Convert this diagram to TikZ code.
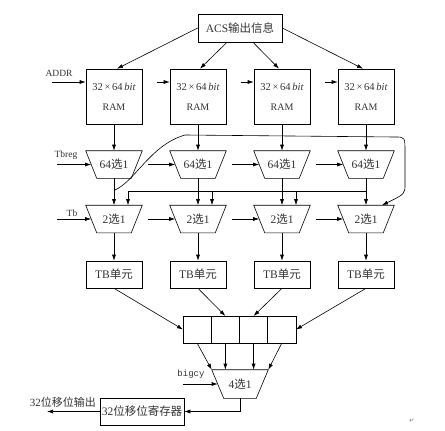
\documentclass[tikz,border=0pt]{standalone}
\usepackage{fontspec}
\setmainfont{Liberation Serif}
\newfontfamily\cjk{Noto Sans CJK SC}
\newfontfamily\mono{Liberation Mono}
\newfontfamily\sym{DejaVu Sans}
\usetikzlibrary{positioning,calc,arrows.meta}

\begin{document}
\begin{tikzpicture}[x=1pt, y=-1pt, -{Latex[length=6pt,width=4pt]}, line width=0.6pt,
    font=\fontsize{11.5}{13}\selectfont,
    box/.style = {draw, rectangle, minimum width=56pt, minimum height=27pt, inner sep=0pt, text=black!80},
    mux/.style = {rectangle, minimum width=56pt, minimum height=27pt, inner sep=0pt, text=black!80},
    cell/.style = {draw, rectangle, minimum width=28.25pt, minimum height=27pt, inner sep=0pt, outer sep=0pt},
    lbl/.style = {inner sep=0pt, text=black!80, font=\fontsize{9.5}{11}\selectfont}]
    \useasboundingbox (0,0) rectangle (445,431);

    \node[box, minimum width=84pt, minimum height=28pt] (acs) at (240,28) {ACS{\cjk 输出信息}};

    \foreach \i/\x in {1/114, 2/198, 3/282, 4/366} {
        \node[box, minimum height=55pt, align=center] (ram\i) at (\x,96.5) {{\fontsize{10.5}{12}\selectfont 32\,×\,64\,\textit{bit}}\\[7pt]{\fontsize{10}{12}\selectfont RAM}};
        \node[mux] (sel\i) at (\x,164.5) {64{\cjk 选}1};
        \node[mux] (two\i) at (\x,219) {2{\cjk 选}1};
        \node[box] (tb\i) at (\x,274.5) {TB{\cjk 单元}};
    }
    \node[cell] (reg1) at (197.1,329.5) {};
    \node[cell, right=0pt of reg1] (reg2) {};
    \node[cell, right=0pt of reg2] (reg3) {};
    \node[cell, right=0pt of reg3] (reg4) {};
    \node[mux, minimum height=28pt] (four) at (240,384) {4{\cjk 选}1};
    \node[box, minimum width=84pt] (sreg) at (142,411.5) {32{\cjk 位移位寄存器}};

    % mux outlines
    \foreach \m/\d in {sel1/11, sel2/11, sel3/11, sel4/11, two1/11, two2/11, two3/11, two4/11, four/12}
        \draw[-] (\m.north west) -- (\m.north east) -- ([xshift=-\d pt]\m.south east) -- ([xshift=\d pt]\m.south west) -- cycle;

    % labels
    \node[lbl] (addr) at (59,73) {ADDR};
    \node[lbl] (tbreg) at (66,155) {Tbreg};
    \node[lbl] (tb) at (72,213) {Tb};
    \node[lbl, font=\mono\fontsize{9}{10}\selectfont] (bigcy) at (191,374) {bigcy};
    \node[lbl, font=\fontsize{11}{12}\selectfont] (outlbl) at (63,402) {32{\cjk 位移位输出}};
    \node[lbl, font=\sym\fontsize{6}{7}\selectfont, text=black!60] (ret) at (412,421) {↵};

    \coordinate (addrin) at (52,82);
    \coordinate (tbregin) at (57,164.5);
    \coordinate (tbin) at (57,219);
    \coordinate (bigin) at (183,384);
    \coordinate (out) at (47,411.5);

    \draw (acs.west) -- ([xshift=3pt]ram1.north);
    \draw ([xshift=-13pt]acs.south) -- ([xshift=2pt]ram2.north);
    \draw ([xshift=13pt]acs.south) -- ([xshift=-3pt]ram3.north);
    \draw (acs.east) -- ([xshift=-3pt]ram4.north);

    \draw (addrin) -- ([yshift=14.5pt]ram1.west);
    \draw (tbregin) -- ([xshift=5.5pt]sel1.west);
    \draw (tbin) -- ([xshift=5.5pt]two1.west);
    \foreach \i in {2,3,4} {
        \draw ([xshift=-13pt,yshift=14.5pt]ram\i.west) -- ([yshift=14.5pt]ram\i.west);
        \draw ([xshift=-22pt]sel\i.west) -- ([xshift=5.5pt]sel\i.west);
        \draw ([xshift=-22pt]two\i.west) -- ([xshift=5.5pt]two\i.west);
    }
    \foreach \i in {1,...,4} {
        \draw (ram\i) -- (sel\i);
        \draw (sel\i) -- (two\i);
        \draw (two\i) -- (tb\i);
    }

    % cross feedback
    \coordinate (fb) at ($(sel4.south)!0.5!(two4.north)$);
    \foreach \i in {1,2,3}
        \draw (fb) -| ([xshift=14pt]two\i.north);
    \coordinate (fc) at ($(sel1.south)!0.45!(two1.north)$);
    \draw (fc) .. controls (135,182) and (150,145) .. (185,135) -- (395,137)
        .. controls (405,137) .. (405,152) -- (405,184)
        .. controls (405,194) .. ([xshift=16pt]two4.north);

    \draw (tb1.south) -- (reg1.west);
    \draw (tb2.south) -- (reg2.north);
    \draw (tb3.south) -- (reg3.north);
    \draw (tb4.south) -- (reg4.east);

    \draw (reg1.south) -- (four.north west);
    \draw (reg2.south) -- (reg2.south |- four.north);
    \draw (reg3.south) -- (reg3.south |- four.north);
    \draw (reg4.south) -- (four.north east);

    \draw (bigin) -- ([xshift=6pt]four.west);
    \draw (four.south) |- (sreg.east);
    \draw (sreg.west) -- (out);
\end{tikzpicture}
\end{document}
